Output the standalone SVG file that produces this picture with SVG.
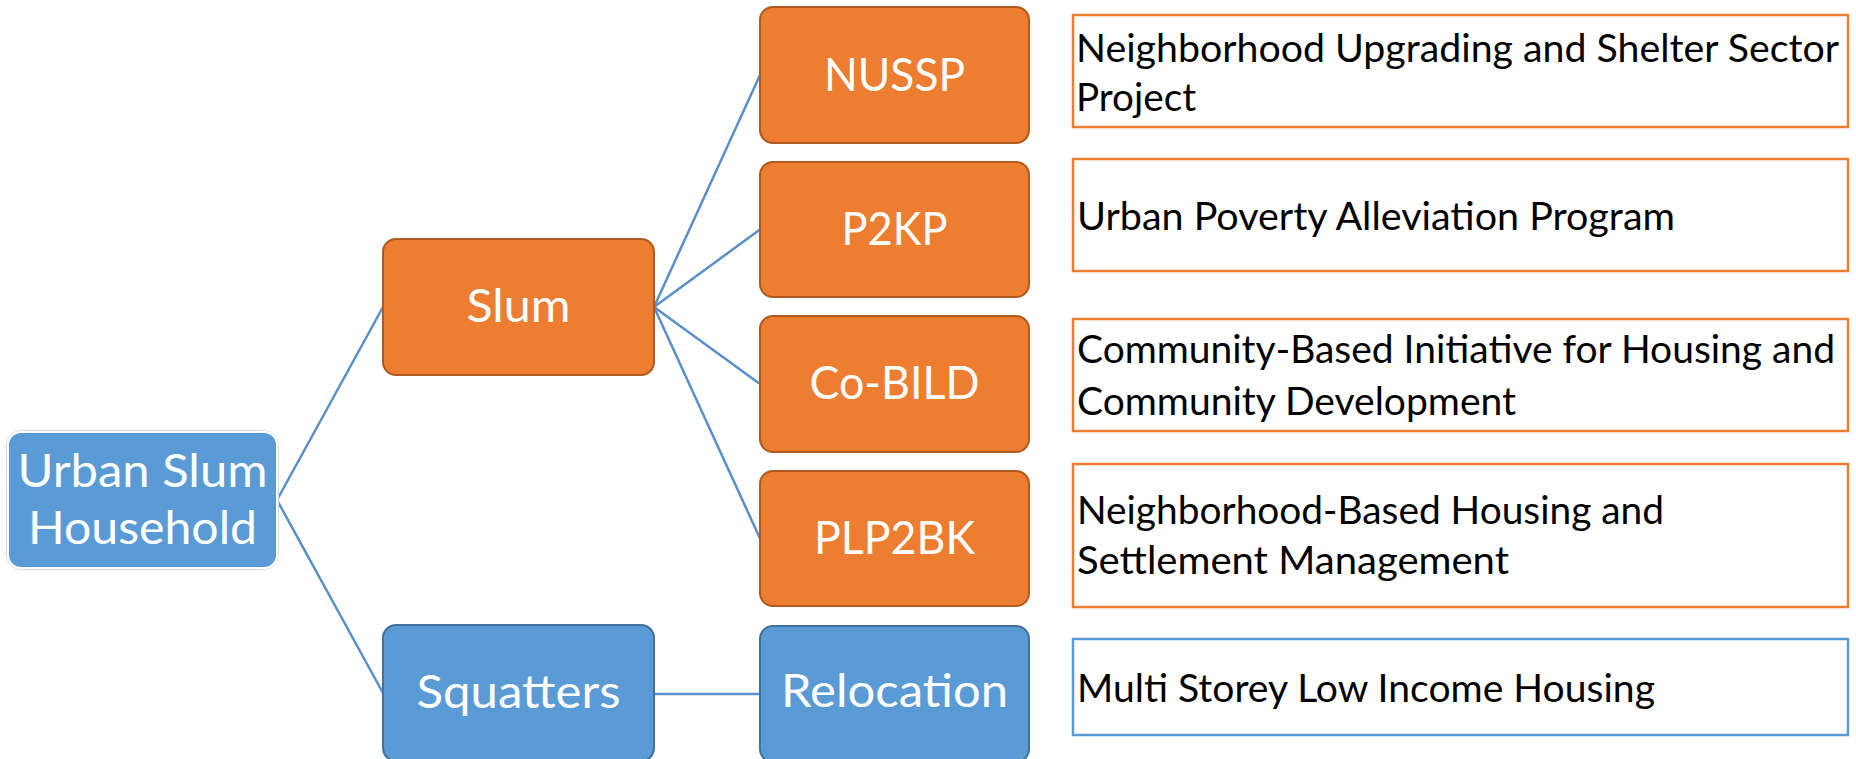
<svg xmlns="http://www.w3.org/2000/svg" width="1856" height="759" viewBox="0 0 1856 759">
<style>
.bg{fill:#ffffff}
.org{fill:#ED7D31;stroke:#AE5A21;stroke-width:2}
.blu{fill:#5B9BD5;stroke:#41719C;stroke-width:2}
.lbl{font-family:Lato,"Open Sans","Liberation Sans",sans-serif;font-size:46px;fill:#ffffff;text-anchor:middle}
.desc{font-family:Lato,"Open Sans","Liberation Sans",sans-serif;font-size:39px;fill:#000000}
.ob{fill:#ffffff;stroke:#ED7D31;stroke-width:2.5}
.bb{fill:#ffffff;stroke:#5B9BD5;stroke-width:2.5}
.conn{stroke:#5B8FC9;stroke-width:2.5;fill:none}
</style>
<rect class="bg" x="0" y="0" width="1856" height="759"/>
<g id="connectors">
<line class="conn" x1="277" y1="500" x2="383" y2="307"/>
<line class="conn" x1="277" y1="500" x2="383" y2="693"/>
<line class="conn" x1="654" y1="307" x2="760" y2="75"/>
<line class="conn" x1="654" y1="307" x2="760" y2="229.5"/>
<line class="conn" x1="654" y1="307" x2="760" y2="384"/>
<line class="conn" x1="654" y1="307" x2="760" y2="538.5"/>
<line class="conn" x1="654" y1="694" x2="760" y2="694"/>
</g>
<g id="urban">
<rect x="6.5" y="430.5" width="272" height="139" rx="15" fill="none" stroke="#d4d4d4" stroke-width="1"/>
<rect x="8" y="432" width="269" height="136" rx="13" fill="#5B9BD5" stroke="#ffffff" stroke-width="2"/>
<text class="lbl" x="142.5" y="487" textLength="250" lengthAdjust="spacingAndGlyphs">Urban Slum</text>
<text class="lbl" x="142.5" y="544" textLength="229" lengthAdjust="spacingAndGlyphs">Household</text>
</g>
<g id="slum">
<rect class="org" x="383" y="239" width="271" height="136" rx="13"/>
<text class="lbl" x="518.5" y="322" textLength="104" lengthAdjust="spacingAndGlyphs">Slum</text>
</g>
<g id="squatters">
<rect class="blu" x="383" y="625" width="271" height="136" rx="13"/>
<text class="lbl" x="518.5" y="708" textLength="204" lengthAdjust="spacingAndGlyphs">Squatters</text>
</g>
<g id="nussp">
<rect class="org" x="760" y="7" width="269" height="136" rx="13"/>
<text class="lbl" x="894.5" y="91" textLength="141" lengthAdjust="spacingAndGlyphs">NUSSP</text>
</g>
<g id="p2kp">
<rect class="org" x="760" y="162" width="269" height="135" rx="13"/>
<text class="lbl" x="894.5" y="245" textLength="106" lengthAdjust="spacingAndGlyphs">P2KP</text>
</g>
<g id="cobild">
<rect class="org" x="760" y="316" width="269" height="136" rx="13"/>
<text class="lbl" x="894.5" y="399" textLength="170" lengthAdjust="spacingAndGlyphs">Co-BILD</text>
</g>
<g id="plp2bk">
<rect class="org" x="760" y="471" width="269" height="135" rx="13"/>
<text class="lbl" x="894.5" y="554" textLength="161" lengthAdjust="spacingAndGlyphs">PLP2BK</text>
</g>
<g id="relocation">
<rect class="blu" x="760" y="626" width="269" height="136" rx="13"/>
<text class="lbl" x="894.5" y="707" textLength="227" lengthAdjust="spacingAndGlyphs">Relocation</text>
</g>
<g id="desc-nussp">
<rect class="ob" x="1073" y="15" width="775" height="112"/>
<text class="desc" x="1076" y="62" textLength="763" lengthAdjust="spacingAndGlyphs">Neighborhood Upgrading and Shelter Sector</text>
<text class="desc" x="1076" y="111" textLength="120" lengthAdjust="spacingAndGlyphs">Project</text>
</g>
<g id="desc-p2kp">
<rect class="ob" x="1073" y="159" width="775" height="112"/>
<text class="desc" x="1077" y="230" textLength="598" lengthAdjust="spacingAndGlyphs">Urban Poverty Alleviation Program</text>
</g>
<g id="desc-cobild">
<rect class="ob" x="1073" y="319" width="775" height="112"/>
<text class="desc" x="1077" y="363" textLength="758" lengthAdjust="spacingAndGlyphs">Community-Based Initiative for Housing and</text>
<text class="desc" x="1077" y="415" textLength="439" lengthAdjust="spacingAndGlyphs">Community Development</text>
</g>
<g id="desc-plp2bk">
<rect class="ob" x="1073" y="464" width="775" height="143"/>
<text class="desc" x="1077" y="524" textLength="587" lengthAdjust="spacingAndGlyphs">Neighborhood-Based Housing and</text>
<text class="desc" x="1077" y="574" textLength="432" lengthAdjust="spacingAndGlyphs">Settlement Management</text>
</g>
<g id="desc-relocation">
<rect class="bb" x="1073" y="639" width="775" height="96"/>
<text class="desc" x="1077" y="702" textLength="578" lengthAdjust="spacingAndGlyphs">Multi Storey Low Income Housing</text>
</g>
</svg>
